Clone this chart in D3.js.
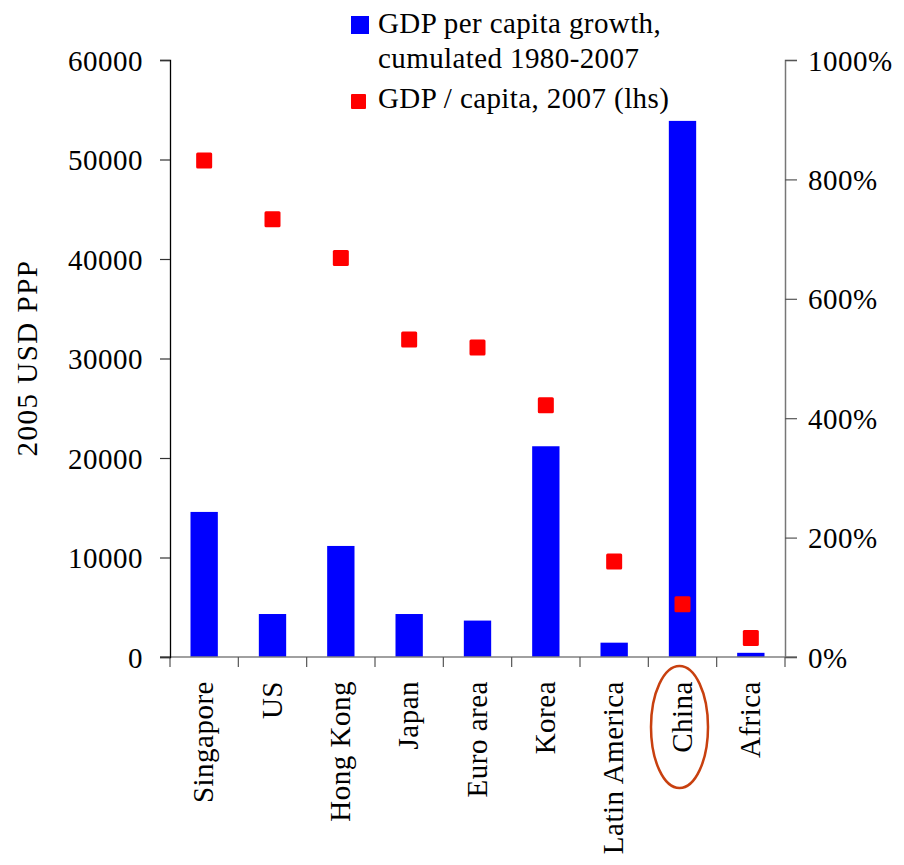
<!DOCTYPE html>
<html>
<head>
<meta charset="utf-8">
<script src="https://cdn.jsdelivr.net/npm/d3@7"></script>
<style>
  html, body { margin: 0; padding: 0; background: #fff; }
  svg { display: block; }
  text { font-family: "Liberation Serif", "Times New Roman", serif; fill: #000; }
</style>
</head>
<body>
<svg id="chart" width="904" height="865"></svg>
<script>
// Economies shown on the x axis
const categories = ["Singapore", "US", "Hong Kong", "Japan", "Euro area", "Korea", "Latin America", "China", "Africa"];
// Cumulated GDP per capita growth 1980-2007, in percent (right axis)
const growthPct = [243, 72, 186, 72, 61, 353, 24, 898, 7];
// GDP per capita in 2007, 2005 USD PPP (left axis)
const gdpPerCapita = [49900, 44000, 40100, 31900, 31100, 25300, 9600, 5300, 1900];
// Axis tick values
const leftTicks = [0, 10000, 20000, 30000, 40000, 50000, 60000];
const rightTicks = [0, 200, 400, 600, 800, 1000];
// Legend entries
const legendGrowth = ["GDP per capita growth,", "cumulated 1980-2007"];
const legendLevel = ["GDP / capita, 2007 (lhs)"];

const svg = d3.select("#chart");
const plot = { left: 170, right: 785, top: 60, bottom: 657 };
const FONT = 29;
const SERIF = "'Liberation Serif', 'Times New Roman', serif";

const x = d3.scaleBand().domain(categories).range([plot.left, plot.right]).padding(0);
const yL = d3.scaleLinear().domain([0, 60000]).range([plot.bottom, plot.top]);
const yR = d3.scaleLinear().domain([0, 1000]).range([plot.bottom, plot.top]);

const barW = x.bandwidth() * 0.4;

// Bars: cumulated growth on the right scale
svg.append("g").selectAll("rect")
  .data(categories.map((c, i) => ({ c, v: growthPct[i] })))
  .join("rect")
  .attr("x", d => x(d.c) + (x.bandwidth() - barW) / 2)
  .attr("y", d => yR(d.v))
  .attr("width", barW)
  .attr("height", d => yR(0) - yR(d.v))
  .attr("fill", "#0000ff");

// Bottom axis line with ticks at band boundaries
const gx = svg.append("g");
gx.append("line")
  .attr("x1", plot.left - 10).attr("x2", plot.right + 12)
  .attr("y1", plot.bottom).attr("y2", plot.bottom)
  .attr("stroke", "#808080").attr("stroke-width", 1.5);
gx.selectAll("line.bt")
  .data(d3.range(categories.length + 1))
  .join("line")
  .attr("class", "bt")
  .attr("x1", i => plot.left + i * x.step()).attr("x2", i => plot.left + i * x.step())
  .attr("y1", plot.bottom).attr("y2", plot.bottom + 10)
  .attr("stroke", "#555").attr("stroke-width", 1.2);

// Left axis
const axL = d3.axisLeft(yL).tickValues(leftTicks).tickSize(10).tickPadding(17).tickFormat(d3.format("d"));
const gL = svg.append("g").attr("transform", `translate(${plot.left},0)`).call(axL)
  .attr("font-family", SERIF).attr("font-size", FONT);
gL.select(".domain").attr("stroke", "#000").attr("stroke-width", 1.3);
gL.selectAll(".tick line").attr("stroke", "#333").attr("stroke-width", 1.2);
gL.selectAll(".tick text")
  .attr("letter-spacing", "0.5px").attr("dy", "0.35em").attr("fill", "#000");

// Right axis
const axR = d3.axisRight(yR).tickValues(rightTicks).tickSize(12).tickPadding(11).tickFormat(d => d + "%");
const gR = svg.append("g").attr("transform", `translate(${plot.right},0)`).call(axR)
  .attr("font-family", SERIF).attr("font-size", FONT);
gR.select(".domain").attr("stroke", "#777").attr("stroke-width", 1.5);
gR.selectAll(".tick line").attr("stroke", "#555").attr("stroke-width", 1.2);
gR.selectAll(".tick text")
  .attr("letter-spacing", "0.5px").attr("dy", "0.35em").attr("fill", "#000");

// Scatter squares: GDP per capita on the left scale
const sq = 16;
svg.append("g").selectAll("rect")
  .data(categories.map((c, i) => ({ c, v: gdpPerCapita[i] })))
  .join("rect")
  .attr("x", d => x(d.c) + x.bandwidth() / 2 - sq / 2)
  .attr("y", d => yL(d.v) - sq / 2)
  .attr("width", sq).attr("height", sq)
  .attr("rx", 1.5)
  .attr("fill", "#ff0000");

// Category labels, rotated
svg.append("g").selectAll("text")
  .data(categories)
  .join("text")
  .attr("transform", d => `translate(${x(d) + x.bandwidth() / 2 - 1},681) rotate(-90)`)
  .attr("text-anchor", "end")
  .attr("dy", "0.35em")
  .attr("font-size", FONT)
  .attr("letter-spacing", "0.5px")
  .text(d => d);

// Highlight ring around China
svg.append("ellipse")
  .attr("cx", x("China") + x.bandwidth() / 2 - 3)
  .attr("cy", 727)
  .attr("rx", 28.5).attr("ry", 61)
  .attr("fill", "none")
  .attr("stroke", "#c8400f")
  .attr("stroke-width", 2.5);

// Left axis title
svg.append("text")
  .attr("transform", "translate(37,358) rotate(-90)")
  .attr("text-anchor", "middle")
  .attr("font-size", FONT)
  .attr("letter-spacing", "1.5px")
  .text("2005 USD PPP");

// Legend
const lg = svg.append("g");
lg.append("rect").attr("x", 351).attr("y", 16).attr("width", 18).attr("height", 18).attr("fill", "#0000ff");
lg.selectAll("text.g1")
  .data(legendGrowth)
  .join("text")
  .attr("class", "g1")
  .attr("x", 378).attr("y", (d, i) => 33 + i * 35)
  .attr("font-size", FONT).attr("letter-spacing", "0.4px")
  .text(d => d);
lg.append("rect").attr("x", 351).attr("y", 94).attr("width", 15).attr("height", 15).attr("rx", 1).attr("fill", "#ff0000");
lg.selectAll("text.g2")
  .data(legendLevel)
  .join("text")
  .attr("class", "g2")
  .attr("x", 378).attr("y", 108)
  .attr("font-size", FONT).attr("letter-spacing", "0.4px")
  .text(d => d);
</script>
</body>
</html>
